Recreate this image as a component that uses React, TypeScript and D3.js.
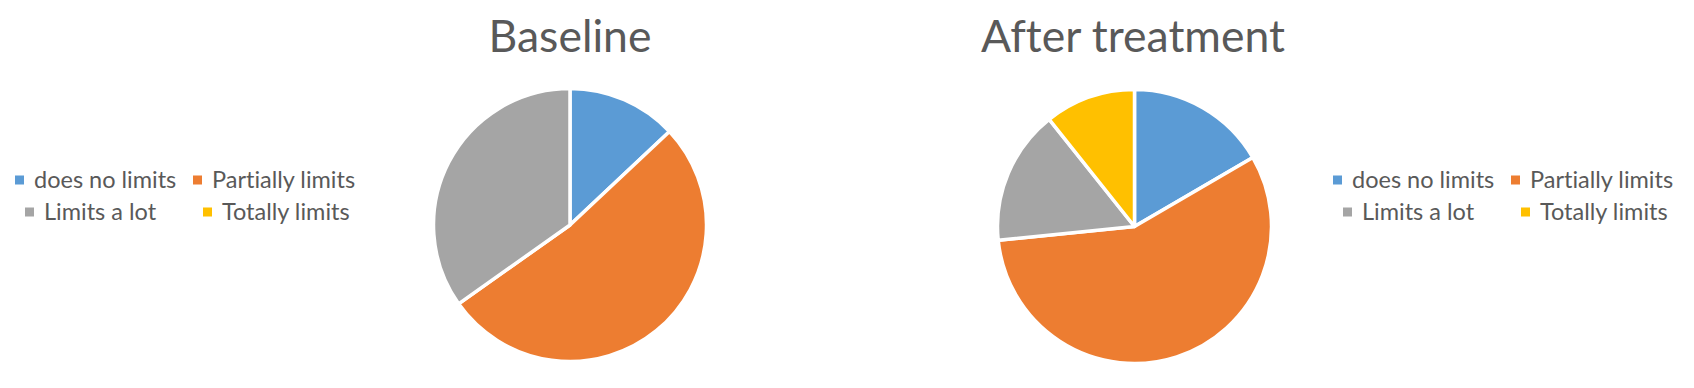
import React from "react";
import * as d3 from "d3";

const categories = ["does no limits", "Partially limits", "Limits a lot", "Totally limits"];
const colors = ["#5B9BD5", "#ED7D31", "#A5A5A5", "#FFC000"];
const baselineValues = [13.0, 52.2, 34.8, 0];
const afterValues = [16.6, 56.8, 15.9, 10.7];
const titles = ["Baseline", "After treatment"];

const W = 1694;
const H = 388;
const FONT = "Lato, 'Open Sans', sans-serif";
const TEXT = "#595959";
const noLig: React.CSSProperties = { fontVariantLigatures: "none", fontFeatureSettings: "'liga' 0, 'clig' 0" };

function Pie({ values, cx, cy, r }: { values: number[]; cx: number; cy: number; r: number }) {
  const pie = d3.pie<number>().sort(null).value((d) => d);
  const arc = d3.arc<d3.PieArcDatum<number>>().innerRadius(0).outerRadius(r);
  const arcs = pie(values);
  return (
    <g transform={`translate(${cx},${cy})`}>
      {arcs.map((a, i) =>
        a.data > 0 ? (
          <path key={i} d={arc(a) || ""} fill={colors[i]} stroke="#fff" strokeWidth={3.5} strokeLinejoin="round" />
        ) : null
      )}
    </g>
  );
}

function Legend({ x }: { x: number }) {
  const rows = [
    [
      { i: 0, mx: 0 },
      { i: 1, mx: 178 },
    ],
    [
      { i: 2, mx: 10 },
      { i: 3, mx: 188 },
    ],
  ];
  const rowY = [180, 212];
  return (
    <g transform={`translate(${x},0)`}>
      {rows.map((row, ri) =>
        row.map(({ i, mx }) => (
          <g key={i}>
            <rect x={mx} y={rowY[ri] - 4.5} width={9} height={9} fill={colors[i]} />
            <text x={mx + 19} y={rowY[ri] + 8} fontFamily={FONT} fontSize={23.5} fill={TEXT} style={noLig}>
              {categories[i]}
            </text>
          </g>
        ))
      )}
    </g>
  );
}

export default function App() {
  return (
    <svg width={W} height={H} style={{ position: "absolute", left: 0, top: 0, background: "#fff" }}>
      <rect width={W} height={H} fill="#fff" />
      <text x={570} y={52} textAnchor="middle" fontFamily={FONT} fontSize={44.5} fill={TEXT} style={noLig}>
        {titles[0]}
      </text>
      <text x={1133} y={52} textAnchor="middle" fontFamily={FONT} fontSize={44.5} fill={TEXT} style={noLig}>
        {titles[1]}
      </text>
      <Pie values={baselineValues} cx={570} cy={225} r={136.5} />
      <Pie values={afterValues} cx={1134.5} cy={226.5} r={137} />
      <Legend x={15} />
      <Legend x={1333} />
    </svg>
  );
}
